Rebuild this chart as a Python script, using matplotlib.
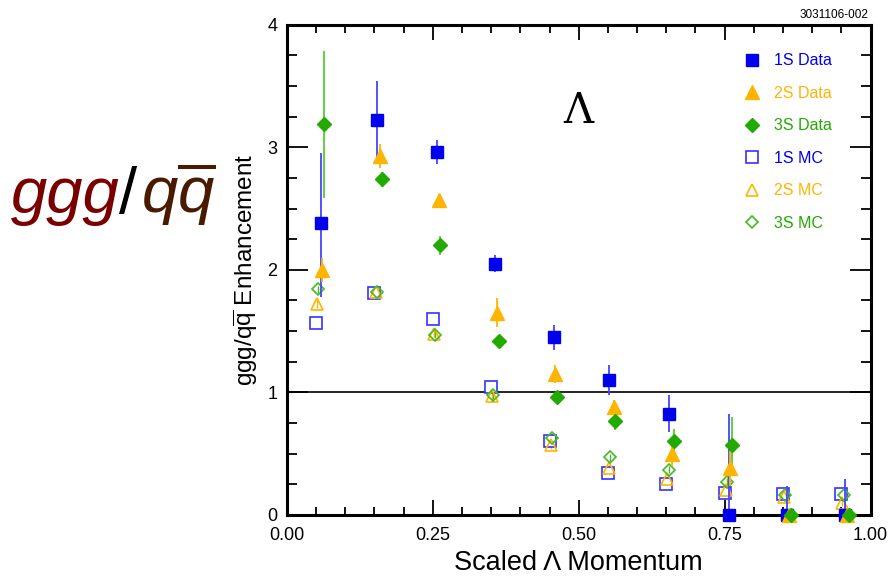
import numpy as np
import matplotlib
matplotlib.use('Agg')
import matplotlib.pyplot as plt
from matplotlib.ticker import MultipleLocator

plt.rcParams['font.family'] = ['Liberation Sans', 'DejaVu Sans']
plt.rcParams['mathtext.fontset'] = 'custom'
plt.rcParams['mathtext.rm'] = 'Liberation Sans'
plt.rcParams['mathtext.it'] = 'Liberation Sans:italic'

# bin centres of scaled momentum (each series slightly shifted in the original)
x_1s_data = [0.058, 0.155, 0.257, 0.357, 0.457, 0.552, 0.655, 0.757, 0.857, 0.957]
y_1s_data = [2.38, 3.22, 2.96, 2.05, 1.45, 1.10, 0.82, 0.0, 0.0, 0.0]
lo_1s_data = [0.60, 0.30, 0.10, 0.07, 0.10, 0.12, 0.14, 0.0, 0.0, 0.0]
hi_1s_data = [0.57, 0.32, 0.10, 0.07, 0.10, 0.12, 0.16, 0.82, 0.24, 0.29]

x_2s_data = [0.060, 0.160, 0.260, 0.360, 0.460, 0.560, 0.660, 0.760, 0.860, 0.960]
y_2s_data = [2.00, 2.93, 2.57, 1.65, 1.15, 0.88, 0.50, 0.38, 0.0, 0.0]
err_2s_data = [0.10, 0.10, 0.04, 0.12, 0.07, 0.06, 0.10, 0.14, 0.0, 0.0]

x_3s_data = [0.063, 0.163, 0.263, 0.363, 0.463, 0.563, 0.663, 0.763, 0.863, 0.963]
y_3s_data = [3.19, 2.74, 2.20, 1.42, 0.96, 0.77, 0.60, 0.57, 0.0, 0.0]
err_3s_data = [0.60, 0.06, 0.08, 0.03, 0.03, 0.08, 0.10, 0.23, 0.0, 0.0]

x_1s_mc = [0.050, 0.150, 0.250, 0.350, 0.450, 0.550, 0.650, 0.750, 0.850, 0.950]
y_1s_mc = [1.57, 1.81, 1.60, 1.04, 0.60, 0.34, 0.25, 0.18, 0.17, 0.17]

x_2s_mc = [0.052, 0.152, 0.252, 0.352, 0.452, 0.552, 0.652, 0.752, 0.852, 0.952]
y_2s_mc = [1.72, 1.82, 1.48, 0.97, 0.57, 0.38, 0.29, 0.20, 0.15, 0.10]

x_3s_mc = [0.054, 0.154, 0.254, 0.354, 0.454, 0.554, 0.654, 0.754, 0.854, 0.954]
y_3s_mc = [1.84, 1.82, 1.47, 0.98, 0.63, 0.47, 0.37, 0.27, 0.16, 0.16]
err_mc = 0.03

blue = '#0000ee'
orange = '#ffb400'
green = '#22aa00'

fig = plt.figure(figsize=(8.91, 5.76), dpi=100)
ax = fig.add_axes([0.322, 0.106, 0.655, 0.851])

ax.axhline(1.0, color='black', lw=1.2, zorder=1)

e1m = ax.errorbar(x_1s_mc, y_1s_mc, yerr=err_mc, fmt='s', mfc='white', mec='#3333ff', ecolor='#3333ff',
                  ms=8, mew=1.2, elinewidth=1, zorder=3)
e2m = ax.errorbar(x_2s_mc, y_2s_mc, yerr=err_mc, fmt='^', mfc='none', mec=orange, ecolor=orange,
                  ms=8, mew=1.2, elinewidth=1, zorder=3)
e3m = ax.errorbar(x_3s_mc, y_3s_mc, yerr=err_mc, fmt='D', mfc='none', mec='#44bb22', ecolor='#44bb22',
                  ms=6.5, mew=1.2, elinewidth=1, zorder=3)

e1 = ax.errorbar(x_1s_data, y_1s_data, yerr=[lo_1s_data, hi_1s_data], fmt='s', color=blue,
                 ecolor='#4444ff', ms=9, elinewidth=1.3, zorder=4)
e2 = ax.errorbar(x_2s_data, y_2s_data, yerr=err_2s_data, fmt='^', color=orange,
                 ecolor=orange, ms=10, elinewidth=1.3, zorder=4)
e3 = ax.errorbar(x_3s_data, y_3s_data, yerr=err_3s_data, fmt='D', color=green,
                 ecolor='#55cc33', ms=7, elinewidth=1.3, zorder=4)
# markers sitting on zero are drawn whole, as in the original
for e in (e1, e2, e3):
    e[0].set_clip_on(False)

ax.set_xlim(0, 1)
ax.set_ylim(0, 4)
ax.xaxis.set_major_locator(MultipleLocator(0.25))
ax.xaxis.set_minor_locator(MultipleLocator(0.05))
ax.yaxis.set_major_locator(MultipleLocator(1))
ax.yaxis.set_minor_locator(MultipleLocator(0.25))
ax.xaxis.set_major_formatter(matplotlib.ticker.FormatStrFormatter('%.2f'))
ax.tick_params(which='both', direction='in', top=True, right=True, width=1.3)
ax.tick_params(axis='x', which='major', length=10.5, pad=9, labelsize=13)
ax.tick_params(axis='x', which='minor', length=5.5)
ax.tick_params(axis='y', which='major', length=15, pad=7, labelsize=13)
ax.tick_params(axis='y', which='minor', length=7.5)
for s in ax.spines.values():
    s.set_linewidth(2.2)

ax.set_xlabel('Scaled \u039b Momentum', fontsize=19.5, labelpad=4)
ax.set_ylabel(r'ggg/$\mathrm{q}\overline{\mathrm{q}}$ Enhancement', fontsize=17.5, labelpad=5)

ax.text(0.5, 3.3, '\u039b', fontsize=30, family='DejaVu Serif', ha='center', va='center')

handles = [e1[0], e2[0], e3[0], e1m[0], e2m[0], e3m[0]]
labels = ['1S Data', '2S Data', '3S Data', '1S MC', '2S MC', '3S MC']
leg = ax.legend(handles, labels, loc='upper right',
                frameon=False, fontsize=11.5, labelspacing=1.1, handlelength=1.2,
                handletextpad=0.8, borderaxespad=0.0, bbox_to_anchor=(0.945, 0.955))
cols = [blue, orange, green, blue, orange, green]
for t, c in zip(leg.get_texts(), cols):
    t.set_color(c)

fig.text(0.975, 0.985, '3031106-002', fontsize=8.5, ha='right', va='top')

# big label on the left
fig.text(0.012, 0.63, 'ggg', fontsize=47, style='italic', color='#7a0000', ha='left', va='baseline')
fig.text(0.134, 0.63, '/', fontsize=47, color='black', ha='left', va='baseline')
fig.text(0.158, 0.63, r'$q\overline{q}$', fontsize=47, color='#4a1a00', ha='left', va='baseline')

fig.savefig('out.png', dpi=100)
